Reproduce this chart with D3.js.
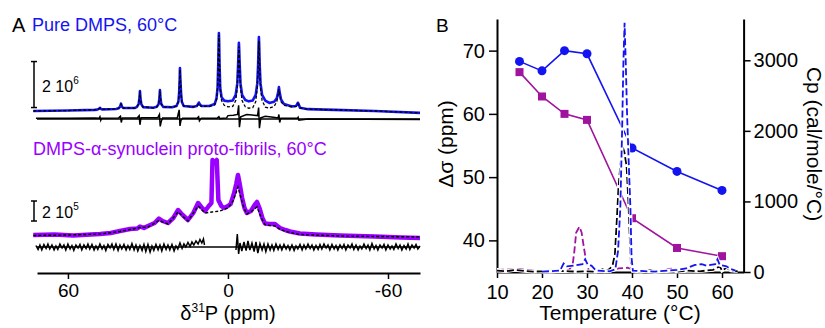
<!DOCTYPE html>
<html lang="en">
<head>
<meta charset="utf-8">
<title>DMPS 31P NMR and DSC</title>
<style>
    body { margin: 0; background: #fff; }
    text { font-family: "Liberation Sans", Arial, sans-serif; }
</style>
<script src="https://d3js.org/d3.v7.min.js"></script>
</head>
<body>
<div id="chart"></div>
<script>

// ---------- Panel A : 31P spectra, [ppm, intensity] ----------
// pure DMPS, intensity in units of 10^6
const pureSpectrum = [
    [73, 0], [60, 0.02], [50, 0.05],
    [49, 0.06], [48.4, 0.09], [48, 0.14], [47.6, 0.09], [47, 0.07], [42, 0.09],
    [41, 0.12], [40.5, 0.18], [40.1, 0.32], [39.7, 0.18], [39.2, 0.13], [35, 0.13],
    [34.2, 0.17], [33.5, 0.3], [33.2, 0.55], [33, 0.87], [32.8, 0.55], [32.5, 0.3], [31.8, 0.17], [28, 0.14],
    [26.7, 0.18], [26, 0.3], [25.7, 0.55], [25.5, 0.91], [25.3, 0.55], [25, 0.3], [24.3, 0.18], [21, 0.16],
    [19.3, 0.22], [18.6, 0.4], [18.3, 0.8], [18.1, 1.4], [18, 1.87], [17.85, 1.4], [17.6, 0.8], [17.3, 0.4], [16.6, 0.22], [13, 0.18],
    [11.7, 0.22], [11.2, 0.3], [10.9, 0.37], [10.6, 0.3], [10, 0.22], [7, 0.22], [5, 0.3],
    [4.3, 0.55], [3.9, 1.0], [3.65, 2.0], [3.5, 3.0], [3.4, 3.39], [3.3, 3.0], [3.15, 2.0], [2.9, 1.0], [2.4, 0.6], [1.4, 0.45],
    [0, 0.42], [-1.8, 0.46],
    [-2.9, 0.7], [-3.5, 1.2], [-3.8, 2.0], [-4.0, 2.7], [-4.1, 2.96], [-4.2, 2.7], [-4.4, 2.0], [-4.7, 1.2], [-5.3, 0.7], [-6.5, 0.48],
    [-7.8, 0.42], [-9.3, 0.46],
    [-10.4, 0.7], [-11.0, 1.2], [-11.3, 2.0], [-11.5, 2.9], [-11.6, 3.22], [-11.7, 2.9], [-11.9, 2.0], [-12.2, 1.2], [-12.8, 0.7], [-14, 0.45],
    [-15.5, 0.35], [-17.3, 0.4],
    [-18.3, 0.55], [-18.8, 0.8], [-19.1, 1.04], [-19.4, 0.8], [-19.9, 0.5], [-21, 0.3], [-24, 0.2],
    [-25.5, 0.22], [-26, 0.3], [-26.2, 0.36], [-26.5, 0.3], [-27, 0.14],
    [-30, 0.08], [-40, 0.05], [-55, 0], [-72, -0.08]
];
const pureFit = [
    [73, 0], [60, 0.02], [50, 0.05],
    [49, 0.06], [48.4, 0.09], [48, 0.13], [47.6, 0.09], [47, 0.07], [42, 0.09],
    [41, 0.12], [40.5, 0.17], [40.1, 0.3], [39.7, 0.17], [39.2, 0.13], [35, 0.13],
    [34.2, 0.17], [33.5, 0.3], [33.2, 0.55], [33, 0.85], [32.8, 0.55], [32.5, 0.3], [31.8, 0.17], [28, 0.14],
    [26.7, 0.18], [26, 0.3], [25.7, 0.55], [25.5, 0.88], [25.3, 0.55], [25, 0.3], [24.3, 0.18], [21, 0.16],
    [19.3, 0.22], [18.6, 0.4], [18.3, 0.8], [18.1, 1.4], [18, 1.8], [17.85, 1.4], [17.6, 0.8], [17.3, 0.4], [16.6, 0.22], [13, 0.18],
    [11.7, 0.2], [11.2, 0.27], [10.9, 0.33], [10.6, 0.27], [10, 0.2], [7, 0.2], [5, 0.26],
    [4.3, 0.5], [3.9, 0.95], [3.65, 1.9], [3.5, 2.9], [3.4, 3.3], [3.3, 2.9], [3.15, 1.9], [2.9, 0.9], [2.4, 0.45], [1.4, 0.25],
    [0, 0.18], [-1.8, 0.2],
    [-2.9, 0.45], [-3.5, 1.0], [-3.8, 1.8], [-4.0, 2.5], [-4.1, 2.8], [-4.2, 2.5], [-4.4, 1.8], [-4.7, 1.0], [-5.3, 0.45], [-6.5, 0.18],
    [-7.8, 0.12], [-9.3, 0.15],
    [-10.4, 0.4], [-11.0, 1.0], [-11.3, 1.8], [-11.5, 2.7], [-11.6, 3.05], [-11.7, 2.7], [-11.9, 1.8], [-12.2, 1.0], [-12.8, 0.45], [-14, 0.17],
    [-15.5, 0.12], [-17.3, 0.2],
    [-18.3, 0.4], [-18.8, 0.7], [-19.1, 0.95], [-19.4, 0.7], [-19.9, 0.4], [-21, 0.25], [-24, 0.18],
    [-25.5, 0.2], [-26, 0.27], [-26.2, 0.32], [-26.5, 0.27], [-27, 0.13],
    [-30, 0.08], [-40, 0.05], [-55, 0], [-72, -0.08]
];
const pureResidual = [
    [72, 0.04], [60, 0.03], [50, 0.05], [48.3, 0.04], [48, 0.1], [47.7, -0.05], [47.4, 0.04],
    [41, 0.05], [40.3, 0.12], [40, -0.15], [39.6, 0.05], [34, 0.05], [33.3, 0.15], [33, -0.25], [32.6, 0.06],
    [26.3, 0.06], [25.7, 0.2], [25.4, -0.32], [25.0, -0.1], [24.5, 0.05],
    [19, 0.05], [18.3, 0.4], [18, -0.3], [17.6, -0.05], [17, 0.04],
    [11.5, 0.04], [11, 0.1], [10.7, -0.08], [10, 0.04], [4, 0.04], [3.4, 0.1], [3, 0.02], [0.5, 0.05],
    [0, 0.15], [-2, 0.17], [-3.6, 0.2], [-4.0, 0.6], [-4.3, -0.35], [-4.8, 0.1], [-7, 0.2], [-9, 0.18],
    [-11.1, 0.15], [-11.5, 0.5], [-11.8, -0.4], [-12.3, 0.05], [-14, 0.12], [-17, 0.08],
    [-18.8, 0.05], [-19.1, 0.2], [-19.4, -0.15], [-19.8, 0.03], [-26, 0.03], [-26.3, 0.08], [-26.6, -0.05],
    [-30, 0], [-72, -0.02]
];

// DMPS + alpha-synuclein proto-fibrils, intensity in units of 10^5
const fibSpectrum = [
    [73, 0.1], [65, 0.15], [58, 0.05], [48, 0.2], [44, 0.3], [40.5, 0.5], [36.7, 0.7], [34, 0.75], [33, 0.95],
    [31.5, 0.8], [30, 1.0], [27.5, 1.3], [25.9, 1.75], [24.5, 1.5], [22.5, 1.3], [20.5, 1.8], [18.7, 2.6],
    [17, 2.1], [15, 1.6], [13, 2.3], [11.2, 3.3], [10, 2.9], [8.6, 2.5], [7.2, 3.0], [6.2, 3.3],
    [5.8, 7.6], [5, 7.3], [4.2, 7.6], [3.6, 3.6], [2.5, 3.0], [1.5, 2.8], [0, 3.0], [-1, 3.2],
    [-2.2, 4.2], [-3.1, 5.2], [-3.75, 6.1], [-4.4, 5.2], [-5.3, 3.8], [-6.2, 2.8], [-7.1, 2.3], [-8.6, 2.5],
    [-10, 3.1], [-10.9, 3.4], [-11.8, 2.8], [-12.9, 1.8], [-13.9, 1.25], [-15.5, 1.2], [-17.6, 1.2],
    [-19.5, 0.8], [-21.5, 0.6], [-23.2, 0.45], [-27, 0.25], [-33, 0.15], [-42, 0.05], [-55, -0.05], [-65, -0.15], [-72, -0.2]
];
const fibFit = [
    [73, 0.05], [60, 0.1], [48, 0.2], [40.5, 0.45], [36.7, 0.65], [33, 0.85], [30, 0.9], [25.9, 1.55],
    [22.5, 1.2], [18.7, 2.4], [15, 1.5], [11.2, 3.0], [8.6, 2.3], [6, 2.4], [3, 2.5], [0, 2.8],
    [-1.9, 3.5], [-3.0, 4.3], [-3.75, 4.9], [-4.7, 4.0], [-6, 2.8], [-7.1, 2.2], [-9, 2.5], [-10.9, 2.9],
    [-12.5, 1.8], [-13.9, 1.15], [-15.8, 1.05], [-17.6, 1.0], [-20, 0.6], [-23.2, 0.35], [-27, 0.15], [-42, 0], [-72, -0.1]
];
const fibResidualLeft = [
    [72, 0.15], [71.2, -0.25], [70.5, 0.2], [69.8, -0.3], [69, 0.25], [68.2, -0.15], [67.5, 0.3], [66.8, -0.2],
    [66, 0.2], [65.2, -0.3], [64.5, 0.1], [63.8, -0.25], [63, 0.3], [62.2, -0.1], [61.5, 0.2], [60.8, -0.3],
    [60, 0.3], [59.2, -0.2], [58.5, 0.15], [57.8, -0.35], [57, 0.2], [56.2, -0.1], [55.5, 0.25], [54.8, -0.3],
    [54, 0.2], [53.2, -0.15], [52.5, 0.3], [51.8, -0.2], [51, 0.25], [50.2, -0.3], [49.5, 0.1], [48.8, -0.25],
    [48, 0.3], [47.2, -0.2], [46.5, 0.15], [45.8, -0.35], [45, 0.25], [44.2, -0.1], [43.5, 0.3], [42.8, -0.25],
    [42, 0.3], [41.2, -0.35], [40.5, 0.2], [39.8, -0.2], [39, 0.25], [38.2, -0.3], [37.5, 0.15], [36.8, -0.25],
    [36, 0.35], [35.2, -0.3], [34.5, 0.2], [33.8, -0.4], [33, 0.15], [32.2, -0.35], [31.5, 0.25], [30.8, -0.45],
    [30, 0.25], [29.2, -0.5], [28.5, 0.1], [27.8, -0.35], [27, 0.25], [26.2, -0.3], [25.5, 0.2], [24.8, -0.4],
    [24, 0.3], [23.2, -0.25], [22.5, 0.2], [21.8, -0.3], [21, 0.25], [20.2, -0.4], [19.5, 0.1], [18.8, -0.2],
    [18, 0.4], [17.2, -0.15], [16.5, 0.3], [15.8, 0.0], [15, 0.45], [14.2, 0.05], [13.5, 0.5], [12.8, 0.2],
    [12, 0.6], [11.2, 0.3], [10.5, 0.75], [9.8, 0.4], [9.2, 0.8], [8.8, 0.2]
];
const fibResidualRight = [
    [-3, -0.3], [-3.5, 1.3], [-4, -0.7], [-4.5, 0.4], [-5.2, -0.4], [-6, 0.5], [-6.8, -0.35], [-7.5, 0.6],
    [-8.2, -0.3], [-9, 0.4], [-9.8, -0.45], [-10.5, 0.5], [-11.2, -0.6], [-12, 0.35], [-12.8, -0.3], [-13.5, 0.3],
    [-14.2, -0.45], [-15, 0.3], [-15.8, -0.3], [-16.5, 0.2], [-17.2, -0.35], [-18, 0.3], [-18.8, -0.25], [-19.5, 0.2],
    [-20.2, -0.3], [-21, 0.25], [-21.8, -0.2], [-22.5, 0.15], [-23.2, -0.3], [-24, 0.2], [-24.8, -0.35], [-25.5, 0.1],
    [-26.2, -0.2], [-27, 0.25], [-27.8, -0.3], [-28.5, 0.2], [-29.2, -0.2], [-30, 0.3], [-30.8, -0.15], [-31.5, 0.2],
    [-32.2, -0.3], [-33, 0.15], [-33.8, -0.25], [-34.5, 0.25], [-35.2, -0.2], [-36, 0.3], [-36.8, -0.1], [-37.5, 0.2],
    [-38.2, -0.3], [-39, 0.25], [-39.8, -0.2], [-40.5, 0.15], [-41.2, -0.3], [-42, 0.2], [-42.8, -0.15], [-43.5, 0.25],
    [-44.2, -0.3], [-45, 0.2], [-45.8, -0.1], [-46.5, 0.3], [-47.2, -0.25], [-48, 0.2], [-48.8, -0.3], [-49.5, 0.1],
    [-50.2, -0.2], [-51, 0.3], [-51.8, -0.15], [-52.5, 0.2], [-53.2, -0.3], [-54, 0.35], [-54.8, -0.2], [-55.5, 0.15],
    [-56.2, -0.3], [-57, 0.2], [-57.8, -0.1], [-58.5, 0.25], [-59.2, -0.3], [-60, 0.2], [-60.8, -0.2], [-61.5, 0.1],
    [-62.2, -0.25], [-63, 0.3], [-63.8, -0.15], [-64.5, 0.2], [-65.2, -0.3], [-66, 0.15], [-66.8, -0.2], [-67.5, 0.3],
    [-68.2, -0.25], [-69, 0.2], [-69.8, -0.1], [-70.5, 0.25], [-71.2, -0.2], [-72, 0.1]
];
const ppmTicks = [60, 0, -60];

// ---------- Panel B : chemical shift anisotropy and DSC ----------
const temps = [15, 20, 25, 30, 40, 50, 60];
const csaPure = [68.3, 66.8, 70.0, 69.5, 54.6, 50.9, 47.9];
const csaFib = [66.6, 62.75, 60.0, 59.05, 43.5, 38.8, 37.5];

// [temperature, Cp]
const dscBlack = [
    [10, 20], [12, 10], [14, 30], [16, 15], [18, 5], [20, 10], [22, 5], [24, 15], [26, 10], [28, 5],
    [30, 10], [32, 5], [33.5, 40], [34, 10], [35, 40], [35.7, 100], [36.2, 250], [36.6, 700], [37.0, 1200],
    [37.4, 1500], [37.9, 1780], [38.3, 1700], [38.8, 1500], [39.2, 1000], [39.5, 500], [39.8, 80], [40.2, 10],
    [42, 5], [44, 30], [45, 5], [48, 10], [50, 5], [52, 20], [55, 10], [58, 30], [59.5, 80], [60, 20],
    [61, 60], [62, 20], [63.5, 10]
];
const dscBlue = [
    [20, 5], [24, 20], [24.8, 120], [25.5, 80], [27, 90], [29, 110], [29.6, 180], [30.2, 100], [31, 90],
    [32, 20], [35, 10], [36.3, 40], [36.9, 300], [37.4, 900], [37.8, 2000], [38.1, 3000], [38.35, 3530],
    [38.6, 3000], [38.9, 2250], [39.3, 1500], [39.65, 900], [39.9, 200], [40.2, 20], [45, 5], [48, 20],
    [50, 30], [52, 50], [54, 100], [55.5, 110], [56.5, 90], [58.5, 110], [59, 180], [59.5, 100], [61, 80],
    [62, 40], [63, 20]
];
const dscMagenta = [
    [10, 30], [15, 40], [18, 20], [20, 10], [24, 10], [26, 30], [26.8, 100], [27.2, 300], [27.6, 560],
    [28.3, 640], [28.8, 560], [29.3, 350], [29.9, 120], [30.4, 20], [32, 10], [35, 15], [37, 50], [39, 60],
    [40, 40], [42, 10], [47, 10], [48, 40], [49, 50], [50, 30], [52, 10]
];
const tempTicks = [10, 20, 30, 40, 50, 60];
const csaTicks = [40, 50, 60, 70];
const cpTicks = [0, 1000, 2000, 3000];

const blue = "#1414f0", violet = "#9a00ff", magenta = "#a0139e";

const svg = d3.select("#chart")
    .append("svg")
    .attr("width", 825)
    .attr("height", 328)
    .style("background", "#fff");

// ================= Panel A =================
const xA = d3.scaleLinear().domain([71.6, -72]).range([37, 420]);
const yPure = d3.scaleLinear().domain([0, 1]).range([111, 88]);   // 10^6
const yFib = d3.scaleLinear().domain([0, 1]).range([236, 226]);   // 10^5
const pureResidBase = -0.35, fibResidBase = -1.1;

const linePure = d3.line().x(d => xA(d[0])).y(d => yPure(d[1]));
const lineFib = d3.line().x(d => xA(d[0])).y(d => yFib(d[1]));
const lineResPure = d3.line().x(d => xA(d[0])).y(d => yPure(pureResidBase + d[1]));
const lineResFib = d3.line().x(d => xA(d[0])).y(d => yFib(fibResidBase + d[1]));

svg.append("text").attr("x", 12).attr("y", 32).attr("font-size", 20).text("A");
svg.append("text").attr("x", 32).attr("y", 31).attr("font-size", 18).attr("fill", blue).text("Pure DMPS, 60°C");
svg.append("text").attr("x", 33).attr("y", 155).attr("font-size", 18).attr("fill", violet)
    .text("DMPS-α-synuclein proto-fibrils, 60°C");

// zero lines of residuals
svg.append("line").attr("x1", 37).attr("x2", 420)
    .attr("y1", yPure(pureResidBase)).attr("y2", yPure(pureResidBase))
    .attr("stroke", "#000").attr("stroke-width", 1.5);
svg.append("line").attr("x1", 37).attr("x2", 420)
    .attr("y1", yFib(fibResidBase)).attr("y2", yFib(fibResidBase))
    .attr("stroke", "#000").attr("stroke-width", 1.5);

// pure DMPS
svg.append("path").datum(pureSpectrum).attr("d", linePure)
    .attr("fill", "none").attr("stroke", blue).attr("stroke-width", 2.6).attr("stroke-linejoin", "round");
svg.append("path").datum(pureFit).attr("d", linePure)
    .attr("fill", "none").attr("stroke", "#000").attr("stroke-width", 1.3).style("stroke-dasharray", "3,2");
svg.append("path").datum(pureResidual).attr("d", lineResPure)
    .attr("fill", "none").attr("stroke", "#000").attr("stroke-width", 1.5);

// proto-fibrils
svg.append("path").datum(fibSpectrum).attr("d", lineFib)
    .attr("fill", "none").attr("stroke", violet).attr("stroke-width", 4.5).attr("stroke-linejoin", "round");
svg.append("path").datum(fibFit).attr("d", lineFib)
    .attr("fill", "none").attr("stroke", "#000").attr("stroke-width", 1.4).style("stroke-dasharray", "3,2");
[fibResidualLeft, fibResidualRight].forEach(r => {
    svg.append("path").datum(r).attr("d", lineResFib)
        .attr("fill", "none").attr("stroke", "#000").attr("stroke-width", 1.5);
});

// scale bars
function scaleBar(y, from, to, big, exp, labelY) {
    const g = svg.append("g").attr("stroke", "#000").attr("stroke-width", 1.5);
    g.append("line").attr("x1", 34).attr("x2", 34).attr("y1", y(from)).attr("y2", y(to));
    g.append("line").attr("x1", 31).attr("x2", 37).attr("y1", y(from)).attr("y2", y(from));
    g.append("line").attr("x1", 31).attr("x2", 37).attr("y1", y(to)).attr("y2", y(to));
    const t = svg.append("text").attr("x", 42).attr("y", labelY).attr("font-size", 16).text(big + " 10");
    t.append("tspan").attr("font-size", 10).attr("dy", -8).text(exp);
}
scaleBar(yPure, 0.15, 2.15, 2, "6", 92);
scaleBar(yFib, 1.5, 3.5, 2, "5", 218);

const axA = svg.append("g").attr("transform", "translate(0,273)")
    .call(d3.axisBottom(xA).tickValues(ppmTicks).tickSize(6).tickSizeOuter(0).tickPadding(5)
        .tickFormat(d => String(d)));
axA.select(".domain").attr("stroke-width", 2);
axA.selectAll(".tick line").attr("stroke-width", 1.5);
axA.selectAll("text").attr("font-size", 19).attr("font-family", "Liberation Sans, Arial, sans-serif").attr("fill", "#000");

const titleA = svg.append("text").attr("x", 228).attr("y", 320).attr("text-anchor", "middle").attr("font-size", 20).text("δ");
titleA.append("tspan").attr("font-size", 12).attr("dy", -8).text("31");
titleA.append("tspan").attr("dy", 8).text("P (ppm)");

// ================= Panel B =================
const xB = d3.scaleLinear().domain([10, 64.8]).range([497, 743.6]);
const yL = d3.scaleLinear().domain([35, 75]).range([272, 19]);
const yR = d3.scaleLinear().domain([0, 3585]).range([272, 19]);

svg.append("text").attr("x", 436).attr("y", 32).attr("font-size", 19).text("B");

function styleAxis(g) {
    g.select(".domain").attr("stroke-width", 2);
    g.selectAll(".tick line").attr("stroke-width", 1.5);
    g.selectAll("text").attr("font-size", 20).attr("font-family", "Liberation Sans, Arial, sans-serif").attr("fill", "#000");
}
svg.append("g").attr("transform", "translate(497,0)")
    .call(d3.axisLeft(yL).tickValues(csaTicks).tickSize(8).tickSizeOuter(0).tickPadding(4))
    .call(styleAxis);
svg.append("g").attr("transform", "translate(743.6,0)")
    .call(d3.axisRight(yR).tickValues(cpTicks).tickSize(7).tickSizeOuter(0).tickPadding(3)
        .tickFormat(d => String(d)))
    .call(styleAxis);
svg.append("g").attr("transform", "translate(0,272)")
    .call(d3.axisBottom(xB).tickValues(tempTicks).tickSize(6).tickSizeOuter(0).tickPadding(7))
    .call(styleAxis);

svg.append("text").attr("transform", "translate(453,144) rotate(-90)").attr("text-anchor", "middle")
    .attr("font-size", 21).text("Δσ (ppm)");
svg.append("text").attr("transform", "translate(807,144) rotate(90)").attr("text-anchor", "middle")
    .attr("font-size", 21).text("Cp (cal/mole/°C)");
svg.append("text").attr("x", 620).attr("y", 320).attr("text-anchor", "middle")
    .attr("font-size", 21).text("Temperature (°C)");

// chemical shift anisotropy
const csaLine = d3.line().x((d, i) => xB(temps[i])).y(d => yL(d));
svg.append("path").datum(csaPure).attr("d", csaLine).attr("fill", "none").attr("stroke", blue).attr("stroke-width", 1.6);
svg.append("path").datum(csaFib).attr("d", csaLine).attr("fill", "none").attr("stroke", magenta).attr("stroke-width", 1.6);
svg.selectAll("circle.pure").data(csaPure).join("circle").attr("class", "pure")
    .attr("cx", (d, i) => xB(temps[i])).attr("cy", d => yL(d)).attr("r", 4.5).attr("fill", blue);
svg.selectAll("rect.fib").data(csaFib).join("rect").attr("class", "fib")
    .attr("x", (d, i) => xB(temps[i]) - 4).attr("y", d => yL(d) - 4)
    .attr("width", 8).attr("height", 8).attr("fill", magenta);

// DSC thermograms
const dscLine = d3.line().x(d => xB(d[0])).y(d => yR(d[1]));
[[dscMagenta, magenta], [dscBlack, "#000"], [dscBlue, blue]].forEach(([data, col]) => {
    svg.append("path").datum(data).attr("d", dscLine)
        .attr("fill", "none").attr("stroke", "#fff").attr("stroke-width", 3.6);
    svg.append("path").datum(data).attr("d", dscLine)
        .attr("fill", "none").attr("stroke", col).attr("stroke-width", 1.8).style("stroke-dasharray", "7,3");
});

</script>
</body>
</html>
